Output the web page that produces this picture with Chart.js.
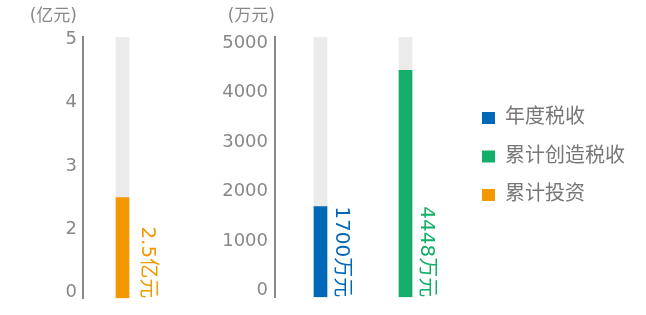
<!DOCTYPE html>
<html><head><meta charset="utf-8">
<script src="https://cdn.jsdelivr.net/npm/chart.js@4/dist/chart.umd.min.js"></script>
<style>
html,body{margin:0;padding:0;background:#fff;}
#wrap{position:relative;width:646px;height:315px;overflow:hidden;background:#fff;}
#c1{position:absolute;left:0;top:0;}
#c2{position:absolute;left:190px;top:0;}
</style></head><body>
<div id="wrap">
<canvas id="c1" width="190" height="315"></canvas>
<canvas id="c2" width="456" height="315"></canvas>
</div>
<script>
// ---------- data ----------
const investCategories = ['累计投资'];
const investValues = [2.5];                       // 亿元
const investUnit = '亿元';
const investTickLabels = ['0', '2', '3', '4', '5'];

const taxCategories = ['年度税收', '累计创造税收'];
const taxValues = [1700, 4448];                   // 万元
const taxUnit = '万元';
const taxTicks = [0, 1000, 2000, 3000, 4000, 5000];

const legendLabels = ['年度税收', '累计创造税收', '累计投资'];

// ---------- styles ----------
const seriesColors = {'年度税收': '#0068b7', '累计创造税收': '#13ae67', '累计投资': '#f39800'};
const trackColor = '#ebebeb';
const axisColor = '#888888';
const textGray = '#888888';
const legendGray = '#777777';
const FONT = "'DejaVu Sans','Noto Sans CJK SC',sans-serif";

Chart.defaults.font.family = FONT;
Chart.defaults.animation = false;

// the left axis is labelled 0,2,3,4,5 at even spacing: map a value onto that label sequence
const investTickNums = investTickLabels.map(Number);
function investToPos(v) {
  for (let i = 1; i < investTickNums.length; i++) {
    const a = investTickNums[i - 1], b = investTickNums[i];
    if (v <= b) return (i - 1) + (v - a) / (b - a);
  }
  return investTickNums.length - 1;
}

function valueLabelPlugin(datasetIndex, texts, colors, offset) {
  return {
    id: 'valueLabels',
    afterDatasetsDraw(chart) {
      const meta = chart.getDatasetMeta(datasetIndex);
      const ctx = chart.ctx;
      meta.data.forEach((bar, i) => {
        const p = bar.getProps(['x', 'base'], true);
        ctx.save();
        ctx.translate(p.x + offset, p.base);
        ctx.rotate(Math.PI / 2);
        ctx.font = '20px ' + FONT;
        ctx.fillStyle = colors[i];
        ctx.textAlign = 'right';
        ctx.textBaseline = 'middle';
        ctx.fillText(texts[i], 0, 0);
        ctx.restore();
      });
    }
  };
}

function unitPlugin(text, dx) {
  return {
    id: 'unitLabel',
    afterDraw(chart) {
      const s = chart.scales.y;
      const ctx = chart.ctx;
      ctx.save();
      ctx.font = '17px ' + FONT;
      ctx.fillStyle = textGray;
      ctx.textAlign = 'right';
      ctx.textBaseline = 'middle';
      ctx.fillText(text, s.right + dx, 17);
      ctx.restore();
    }
  };
}

// ---------- left chart: 累计投资 ----------
const leftRange = {min: -0.094, max: 4.04};
new Chart(document.getElementById('c1'), {
  type: 'bar',
  data: {
    labels: investCategories,
    datasets: [
      {
        label: investCategories[0],
        data: investValues.map(investToPos),
        backgroundColor: seriesColors['累计投资'],
        base: leftRange.min, grouped: false, barThickness: 13, order: 0
      },
      {
        label: 'track',
        data: investValues.map(() => leftRange.max),
        backgroundColor: trackColor,
        base: leftRange.min, grouped: false, barThickness: 13, order: 1
      }
    ]
  },
  options: {
    responsive: false,
    layout: {padding: {top: 37, left: 20, right: 28, bottom: 13}},
    plugins: {
      legend: {display: false},
      tooltip: {enabled: false},
      title: {display: false}
    },
    scales: {
      x: {display: false},
      y: {
        min: leftRange.min, max: leftRange.max,
        afterBuildTicks: s => { s.ticks = investTickLabels.map((l, i) => ({value: i})); },
        afterFit: s => { s.width = 63; },
        grid: {display: false, drawTicks: false},
        border: {display: true, color: axisColor, width: 2},
        ticks: {
          color: textGray, font: {size: 18}, padding: 6,
          callback: v => investTickLabels[Math.round(v)]
        }
      }
    }
  },
  plugins: [
    valueLabelPlugin(0, investValues.map(v => v + investUnit),
      investValues.map(() => seriesColors['累计投资']), 25),
    unitPlugin('(' + investUnit + ')', -6)
  ]
});

// ---------- right chart: 税收 ----------
const rightRange = {min: -129, max: 5119};
new Chart(document.getElementById('c2'), {
  type: 'bar',
  data: {
    datasets: [
      {
        label: '税收',
        data: taxValues.map((v, i) => ({x: i, y: v})),
        backgroundColor: taxCategories.map(c => seriesColors[c]),
        base: rightRange.min, grouped: false, barThickness: 13, order: 0
      },
      {
        label: 'track',
        data: taxValues.map((v, i) => ({x: i, y: rightRange.max})),
        backgroundColor: trackColor,
        base: rightRange.min, grouped: false, barThickness: 13, order: 1
      }
    ]
  },
  options: {
    responsive: false,
    layout: {padding: {top: 11, left: 20, right: 11, bottom: 13}},
    plugins: {
      tooltip: {enabled: false},
      title: {display: false},
      legend: {
        display: true, position: 'right', align: 'center', maxWidth: 240,
        labels: {
          boxWidth: 13, boxHeight: 12, padding: 18.5,
          color: legendGray, font: {size: 20},
          generateLabels: () => legendLabels.map(t => ({
            text: t, fillStyle: seriesColors[t], strokeStyle: seriesColors[t],
            lineWidth: 0, hidden: false, fontColor: legendGray
          }))
        }
      }
    },
    scales: {
      x: {
        type: 'linear', position: 'top', offset: false, min: -0.535, max: 1.682,
        afterFit: s => { s.height = 26; },
        grid: {display: false, drawTicks: false, offset: false},
        border: {display: false},
        ticks: {display: false}
      },
      y: {
        min: rightRange.min, max: rightRange.max,
        afterBuildTicks: s => { s.ticks = taxTicks.map(v => ({value: v})); },
        afterFit: s => { s.width = 65; },
        grid: {display: false, drawTicks: false},
        border: {display: true, color: axisColor, width: 2},
        ticks: {color: textGray, font: {size: 18}, padding: 7, callback: v => String(v)}
      }
    }
  },
  plugins: [
    valueLabelPlugin(0, taxValues.map(v => v + taxUnit),
      taxCategories.map(c => seriesColors[c]), 21),
    unitPlugin('(' + taxUnit + ')', 0)
  ]
});
</script>
</body></html>
